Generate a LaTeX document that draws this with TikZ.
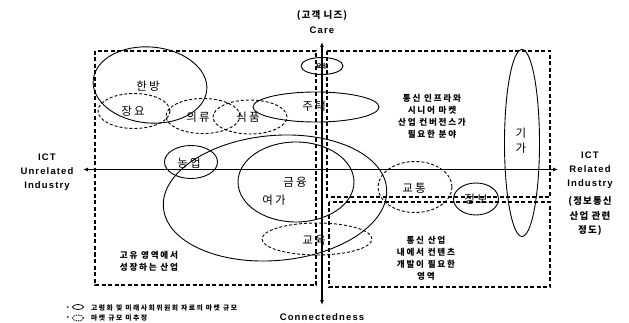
\documentclass[tikz,border=0pt]{standalone}
\usepackage{fontspec}
\setmainfont{Liberation Sans}
\newfontfamily\kr[LetterSpace=20]{Noto Sans CJK KR}
\newfontfamily\krb[LetterSpace=12]{Noto Sans CJK KR}
\newfontfamily\krl[LetterSpace=22]{Noto Sans CJK KR}
\newfontfamily\ensp[LetterSpace=12]{Liberation Sans}
\usetikzlibrary{shapes.geometric,arrows.meta}
\tikzset{
  ell/.style={ellipse,draw,line width=0.9pt,inner sep=0pt},
  dell/.style={ellipse,draw,line width=0.9pt,inner sep=0pt,dash pattern=on 3pt off 2pt},
  drect/.style={draw,line width=1.1pt,dash pattern=on 4pt off 2.5pt},
  axisline/.style={line width=1.7pt,-{Latex[length=5pt,width=4pt]}},
  lab/.style={font=\kr\fontsize{11.5}{13}\selectfont,inner sep=0pt},
  blk/.style={font=\kr\bfseries\fontsize{8.6}{12}\selectfont,align=center,inner sep=0pt},
  eng/.style={font=\ensp\bfseries\fontsize{9.5}{14}\selectfont,align=center,inner sep=0pt},
  krh/.style={font=\krb\bfseries\fontsize{9.5}{14.5}\selectfont,align=center,inner sep=0pt},
  leg/.style={anchor=west,font=\krl\bfseries\fontsize{6.8}{7}\selectfont,inner sep=0pt},
}
\begin{document}
\begin{tikzpicture}[x=1pt,y=-1pt]
\useasboundingbox (0,0) rectangle (629,323);
% dashed regions
\draw[drect] (95,51) rectangle (316,285);
\draw[drect] (327,51) rectangle (550,197);
\draw[drect] (329,202) rectangle (550,287);
% ellipses
\node[ell,rotate=-5,minimum width=114pt,minimum height=76pt] (hb) at (150,85) {};
\node[dell,minimum width=72pt,minimum height=35pt] (jy) at (134,111) {};
\node[dell,minimum width=74pt,minimum height=35pt] (ur) at (203,116) {};
\node[dell,minimum width=74pt,minimum height=34pt] (sp) at (250,117) {};
\node[ell,minimum width=126pt,minimum height=30pt] (jt) at (316,107) {};
\node[ell,minimum width=42pt,minimum height=17pt] (yy) at (322,66) {};
\node[ell,minimum width=53pt,minimum height=33pt] (ny) at (191,162) {};
\node[ell,rotate=5,minimum width=224pt,minimum height=125pt] (big) at (275,198) {};
\node[ell,minimum width=116pt,minimum height=80pt] (gy) at (296,182) {};
\node[dell,minimum width=110pt,minimum height=32pt] (gyuk) at (317,239) {};
\node[dell,minimum width=74pt,minimum height=51pt] (gt) at (415,187) {};
\node[ell,minimum width=45pt,minimum height=32pt] (jb) at (476,199) {};
\node[ell,minimum width=35pt,minimum height=187pt] (gg) at (522,143) {};
% axes
\coordinate (ct) at (322,42);
\coordinate (cb) at (322,305);
\coordinate (cl) at (83,169.5);
\coordinate (cr) at (558,169.5);
\coordinate (cm) at (322,169.5);
\draw[axisline] (cm) -- (ct);
\draw[axisline] (cm) -- (cb);
\draw[axisline] (cm) -- (cl);
\draw[axisline] (cm) -- (cr);
% labels
\node[lab] (t1) at (148,86) {한방};
\node[lab] (t2) at (133,111) {장요};
\node[lab] (t3) at (198,117) {의류};
\node[lab] (t4) at (248,117) {식품};
\node[lab] (t5) at (314,106) {주택};
\node[font=\krb\bfseries\fontsize{6}{7}\selectfont,inner sep=0pt] (t6) at (322,66) {요양};
\node[lab] (t7) at (189,163) {농업};
\node[lab] (t8) at (295,182) {금융};
\node[lab] (t9) at (274,200) {여가};
\node[lab] (t10) at (314,240) {교육};
\node[lab] (t11) at (414,188) {교통};
\node[lab] (t12) at (476,199) {정보};
\node[lab] (t13) at (521,133) {기};
\node[lab] (t14) at (521,148) {가};
% text blocks
\node[blk] (b1) at (432,116) {통신 인프라와\\시니어 마켓\\산업 컨버전스가\\필요한 분야};
\node[blk] (b2) at (426,258) {통신 산업\\내에서 컨텐츠\\개발이 필요한\\영역};
\node[blk] (b3) at (149,261) {고유 영역에서\\성장하는 산업};
% axis titles
\node[krh] (n1) at (322,15) {(고객 니즈)};
\node[eng] (n2) at (322,30) {Care};
\node[eng] (n3) at (47,172) {ICT\\Unrelated\\Industry};
\node[eng] (n4) at (590,170) {ICT\\Related\\Industry};
\node[krh] (n5) at (590,216) {(정보통신\\산업 관련\\정도)};
\node[font=\ensp\bfseries\fontsize{9.5}{11}\selectfont,inner sep=0pt] (n6) at (322,317) {Connectedness};
% legend
\node[font=\bfseries\fontsize{6}{7}\selectfont,inner sep=0pt] (lb1) at (68,308) {•};
\node[ell,line width=0.8pt,minimum width=11pt,minimum height=5pt] (le1) at (78,307) {};
\node[leg] (lt1) at (91,308) {고령화 및 미래사회위원회 자료의 마켓 규모};
\node[font=\bfseries\fontsize{6}{7}\selectfont,inner sep=0pt] (lb2) at (68,318) {•};
\node[dell,line width=0.8pt,dash pattern=on 1.5pt off 1pt,minimum width=11pt,minimum height=6pt] (le2) at (78,318) {};
\node[leg] (lt2) at (91,318) {마켓 규모 미추정};
\end{tikzpicture}
\end{document}
